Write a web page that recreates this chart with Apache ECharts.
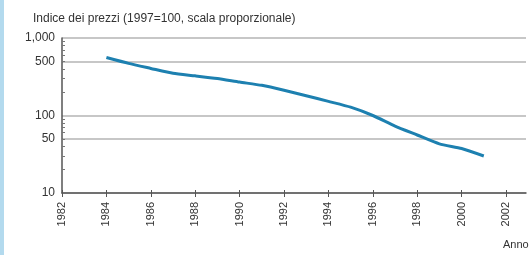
<!DOCTYPE html>
<html>
<head>
<meta charset="utf-8">
<script src="https://cdn.jsdelivr.net/npm/echarts@6/dist/echarts.min.js"></script>
<style>
  html, body { margin: 0; padding: 0; background: #fff; }
  #chart { width: 532px; height: 255px; }
</style>
</head>
<body>
<div id="chart"></div>
<script>
// dati
var anni = [1984, 1985, 1986, 1987, 1988, 1989, 1990, 1991, 1992, 1993, 1994, 1995, 1996, 1997, 1998, 1999, 2000, 2001];
var indice = [560, 470, 405, 350, 325, 300, 270, 245, 212, 180, 152, 128, 100, 73, 56, 43, 37.5, 30];
var anniEtichette = [1982, 1984, 1986, 1988, 1990, 1992, 1994, 1996, 1998, 2000, 2002];
var yEtichette = [10, 50, 100, 500, 1000];
var yTacche = [20, 30, 40, 50, 60, 70, 80, 90, 200, 300, 400, 500, 600, 700, 800, 900];

var font = 'Liberation Sans, Arial, sans-serif';
var myChart = echarts.init(document.getElementById('chart'));

myChart.setOption({
  animation: false,
  title: {
    text: 'Indice dei prezzi (1997=100, scala proporzionale)',
    left: 28,
    top: 8,
    textStyle: { fontSize: 12, fontWeight: 'normal', color: '#333', fontFamily: font }
  },
  graphic: [
    { type: 'rect', left: 0, top: 0, shape: { width: 4, height: 255 }, style: { fill: '#b3daee' } },
    { type: 'text', left: 503, top: 239, style: { text: 'Anno', fontSize: 11, fill: '#333', fontFamily: font } }
  ],
  grid: { left: 62, right: 6, top: 38, bottom: 62 },
  xAxis: [{
    type: 'value',
    min: 1982,
    max: 2002.9,
    position: 'bottom',
    axisLine: { onZero: false, lineStyle: { color: '#555', width: 1.5 } },
    axisTick: { length: 4, customValues: anniEtichette, lineStyle: { color: '#555' } },
    axisLabel: {
      customValues: anniEtichette,
      rotate: 90,
      margin: 9,
      fontSize: 11,
      color: '#333',
      fontFamily: font,
      formatter: function (v) { return String(v); }
    },
    splitLine: { show: false }
  }, {
    type: 'value',
    min: 1982,
    max: 2002.9,
    position: 'bottom',
    offset: 0,
    axisLine: { show: false, onZero: false },
    axisTick: { inside: true, length: 3, customValues: anniEtichette, lineStyle: { color: '#555' } },
    axisLabel: { show: false },
    splitLine: { show: false }
  }],
  yAxis: [{
    type: 'log',
    logBase: 10,
    min: 10,
    max: 1000,
    axisLine: { show: true, onZero: false, lineStyle: { color: '#555', width: 1.5 } },
    axisTick: { show: false, customValues: yEtichette },
    axisLabel: {
      customValues: yEtichette,
      margin: 7,
      fontSize: 12,
      color: '#333',
      fontFamily: font,
      formatter: function (v) { return v.toLocaleString('en-US'); }
    },
    splitLine: { show: true, lineStyle: { color: '#b5b5b5', width: 1.5 } }
  }, {
    type: 'log',
    logBase: 10,
    min: 10,
    max: 1000,
    position: 'left',
    offset: 0,
    axisLine: { show: false, onZero: false },
    axisTick: { show: true, inside: true, length: 3, customValues: yTacche, lineStyle: { color: '#777' } },
    axisLabel: { show: false },
    splitLine: { show: false }
  }],
  series: [{
    type: 'line',
    xAxisIndex: 0,
    yAxisIndex: 0,
    showSymbol: false,
    smooth: 0.2,
    lineStyle: { color: '#1d80b0', width: 3 },
    data: anni.map(function (a, i) { return [a, indice[i]]; })
  }]
});
</script>
</body>
</html>
